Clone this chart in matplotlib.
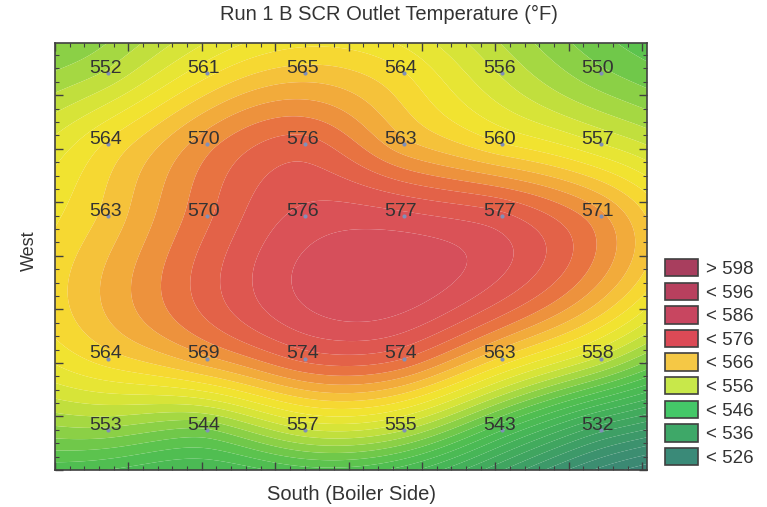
import numpy as np
import matplotlib.pyplot as plt
from matplotlib.colors import LinearSegmentedColormap
from matplotlib.patches import Patch

#-------------------------------------
#-- Measured outlet temperatures (deg F)
#-------------------------------------
cols = [0, 1, 2, 3, 4, 5]          # south -> north sample ports
rows = [0, 1, 2, 4, 5]             # port depth, row 3 not sampled
temps = [
    [552, 561, 565, 564, 556, 550],
    [564, 570, 576, 563, 560, 557],
    [563, 570, 576, 577, 577, 571],
    [564, 569, 574, 574, 563, 558],
    [553, 544, 557, 555, 543, 532],
]

legend_labels = ['> 598', '< 596', '< 586', '< 576', '< 566',
                 '< 556', '< 546', '< 536', '< 526']
legend_colors = ['#a83e5e', '#b8405e', '#c84660', '#dc4a56', '#f5c845',
                 '#c8e84a', '#44c868', '#3ea868', '#3a8a78']

#-------------------------------------
#-- Smoothing thin plate spline through the points
#-------------------------------------
xp, yp = np.meshgrid(cols, rows)
xp = xp.ravel().astype(float)
yp = yp.ravel().astype(float)
zp = np.array(temps, dtype=float).ravel()

def tps_kernel(r2):
    out = np.zeros_like(r2)
    nz = r2 > 0
    out[nz] = 0.5 * r2[nz] * np.log(r2[nz])
    return out

smooth = 1.2
n = zp.size
K = tps_kernel((xp[:, None] - xp[None, :])**2 + (yp[:, None] - yp[None, :])**2)
P = np.column_stack([np.ones(n), xp, yp])
A = np.zeros((n + 3, n + 3))
A[:n, :n] = K + smooth * np.eye(n)
A[:n, n:] = P
A[n:, :n] = P.T
rhs = np.concatenate([zp, np.zeros(3)])
coef = np.linalg.solve(A, rhs)
w, a = coef[:n], coef[n:]

xlim = (-0.51, 5.5)
ylim = (5.56, -0.42)
gx = np.linspace(xlim[0], xlim[1], 300)
gy = np.linspace(ylim[1], ylim[0], 300)
GX, GY = np.meshgrid(gx, gy)
gr2 = (GX.ravel()[:, None] - xp[None, :])**2 + (GY.ravel()[:, None] - yp[None, :])**2
Z = tps_kernel(gr2) @ w + a[0] + a[1] * GX.ravel() + a[2] * GY.ravel()
Z = Z.reshape(GX.shape)

#-------------------------------------
#-- Colour scale
#-------------------------------------
vmin, vmax = 520, 600
anchors = [
    (520, '#3a7e78'), (528, '#3c9070'), (534, '#3fa262'), (540, '#45b458'),
    (546, '#52c050'), (550, '#7ccb48'), (554, '#b4dc40'), (558, '#e2e636'),
    (562, '#f6e22e'), (565, '#f5c43a'), (568, '#f0a03c'), (571, '#e87440'),
    (574, '#e05a4c'), (578, '#d8505a'), (586, '#c84660'), (596, '#b8405e'),
    (600, '#a83e5e'),
]
cmap = LinearSegmentedColormap.from_list(
    'scr', [((v - vmin) / (vmax - vmin), c) for v, c in anchors])

#-------------------------------------
#-- Plot
#-------------------------------------
plt.rcParams['font.family'] = ['Liberation Sans', 'DejaVu Sans']
fig = plt.figure(figsize=(7.67, 5.07), dpi=100)
ax = fig.add_axes([0.0717, 0.073, 0.772, 0.842])

levels = np.arange(vmin, vmax + 2, 2)
ax.contourf(GX, GY, np.clip(Z, vmin, vmax), levels=levels, cmap=cmap,
            vmin=vmin, vmax=vmax, antialiased=True)

ax.scatter(xp + 0.03, yp, s=9, color='#8090b8', marker='o', zorder=3,
           linewidths=0)
for x, y, z in zip(xp, yp, zp):
    ax.text(x, y - 0.065, '%d' % z, ha='center', va='center', fontsize=14,
            color='#333333', zorder=4)

ax.set_xlim(xlim)
ax.set_ylim(ylim)
ax.set_xticks(np.arange(xlim[0], xlim[1] + 0.01, 0.745))
ax.set_xticks(np.arange(xlim[0], xlim[1] + 0.01, 0.149), minor=True)
ax.set_yticks(np.arange(ylim[0], ylim[1] - 0.01, -0.75))
ax.set_yticks(np.arange(ylim[0], ylim[1] - 0.01, -0.1875), minor=True)
ax.tick_params(which='both', direction='in', top=True, right=True,
               labelbottom=False, labelleft=False, color='#404040')
ax.tick_params(which='major', length=6, width=1)
ax.tick_params(which='minor', length=3, width=0.8)
for s in ax.spines.values():
    s.set_color('#404040')
    s.set_linewidth(1.2)

ax.set_xlabel('South (Boiler Side)', fontsize=14.5, color='#333333', labelpad=11)
ax.set_ylabel('West', fontsize=13, color='#333333')
ax.yaxis.set_label_coords(-0.028, 0.513)
fig.text(0.507, 0.972, 'Run 1 B SCR Outlet Temperature (°F)', ha='center',
         va='center', fontsize=14.5, color='#333333')

handles = [Patch(facecolor=c, edgecolor='#404040', linewidth=1.2)
           for c in legend_colors]
fig.legend(handles, legend_labels, loc='upper left',
           bbox_to_anchor=(0.857, 0.504), frameon=False, fontsize=13.5,
           handlelength=1.75, handleheight=1.05, handletextpad=0.45,
           labelspacing=0.24, borderaxespad=0, labelcolor='#333333')

fig.savefig('out.png', dpi=100)
